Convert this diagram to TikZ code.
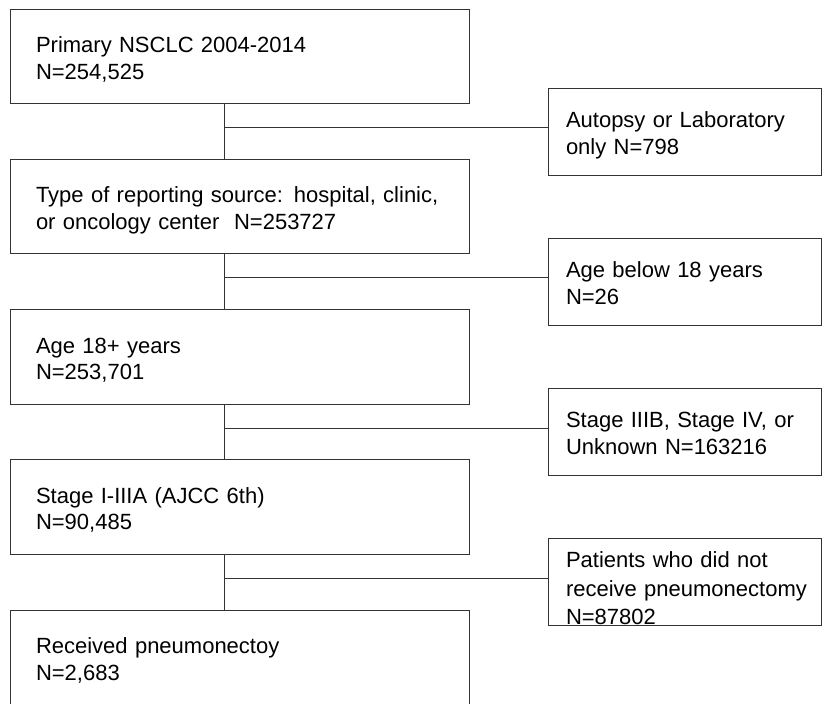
\documentclass[tikz,border=0pt]{standalone}
\usepackage{fontspec}
\setmainfont{Liberation Sans}
\usepackage{tikz}

\begin{document}
\begin{tikzpicture}[x=1pt,y=-1pt]
\tikzstyle{every node}+=[inner sep=0pt]
\tikzstyle{mainbox}=[draw=black!80, line width=1pt, minimum width=459pt, text height=43.5pt, text depth=51pt, text width=407pt, inner xsep=26pt, align=left, font=\fontsize{22}{26.5}\selectfont]
\tikzstyle{sidebox}=[draw=black!80, line width=1pt, minimum width=273pt, text height=39pt, text depth=48pt, text width=237pt, inner xsep=18pt, align=left, font=\fontsize{22}{27}\selectfont]
\tikzstyle{link}=[draw=black!80, line width=1pt]
\useasboundingbox (0,0) rectangle (822,704);
% main flow
\node [mainbox] (s1) at (239.5,56.3) {Primary NSCLC 2004-2014\\N=254,525};
\node [mainbox] (s2) at (239.5,206.6) {Type of reporting source: hospital, clinic,\\or oncology center\ \ N=253727};
\node [mainbox] (s3) at (239.5,356.9) {Age 18+ years\\N=253,701};
\node [mainbox] (s4) at (239.5,507.2) {Stage I-IIIA (AJCC 6th)\\N=90,485};
\node [mainbox] (s5) at (239.5,657.5) {Received pneumonectoy\\N=2,683};
% exclusions
\node [sidebox] (x1) at (684.5,131.5) {Autopsy or Laboratory\\only N=798};
\node [sidebox] (x2) at (684.5,281.8) {Age below 18 years\\N=26};
\node [sidebox] (x3) at (684.5,432.1) {Stage IIIB, Stage IV, or\\Unknown N=163216};
\node [sidebox, text height=29pt, text depth=58pt, font=\fontsize{22}{28.5}\selectfont] (x4) at (684.5,582.4) {Patients who did not\\\mbox{receive pneumonectomy}\\N=87802};
% junctions
\coordinate (j1) at (224,127.5);
\coordinate (j2) at (224,277.8);
\coordinate (j3) at (224,428.1);
\coordinate (j4) at (224,578.4);
\draw [link] (s1.south -| j1) -- (s2.north -| j1);
\draw [link] (j1) -- (j1 -| x1.west);
\draw [link] (s2.south -| j2) -- (s3.north -| j2);
\draw [link] (j2) -- (j2 -| x2.west);
\draw [link] (s3.south -| j3) -- (s4.north -| j3);
\draw [link] (j3) -- (j3 -| x3.west);
\draw [link] (s4.south -| j4) -- (s5.north -| j4);
\draw [link] (j4) -- (j4 -| x4.west);
\end{tikzpicture}
\end{document}
